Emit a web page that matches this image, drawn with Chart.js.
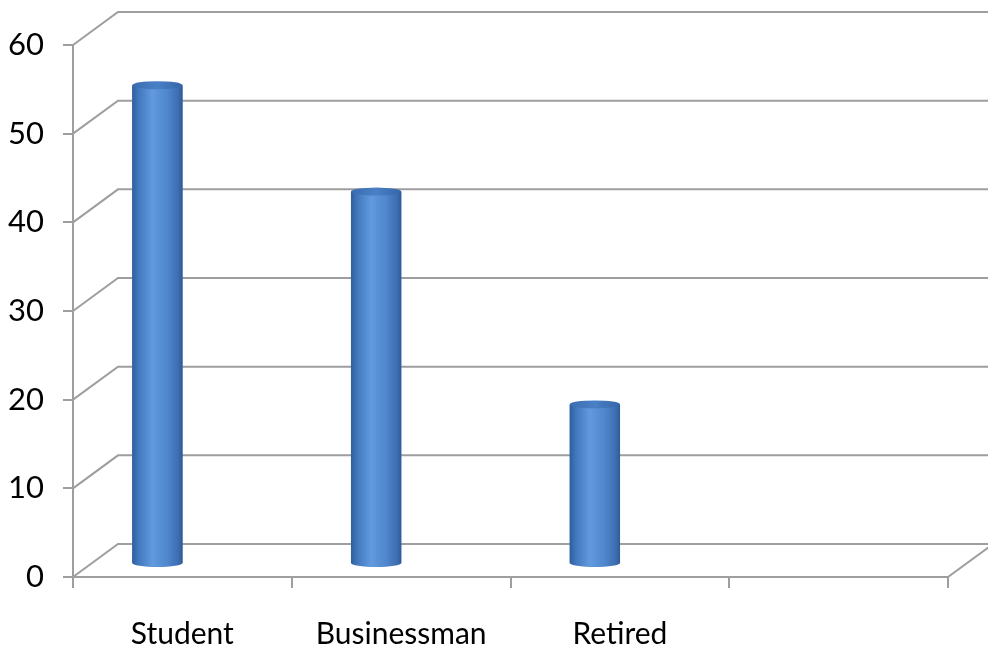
<!DOCTYPE html>
<html>
<head>
<meta charset="utf-8">
<script src="https://cdn.jsdelivr.net/npm/chart.js@4/dist/chart.umd.min.js"></script>
<style>
  html, body { margin: 0; padding: 0; background: #ffffff; }
  #wrap { width: 988px; height: 654px; position: relative; }
</style>
</head>
<body>
<div id="wrap"><canvas id="c" width="988" height="654"></canvas></div>
<script>
const categories = ['Student', 'Businessman', 'Retired', ''];
const seriesValues = [54, 42, 18, null];
const yTicks = [0, 10, 20, 30, 40, 50, 60];

const DEPTH_X = 45, DEPTH_Y = 33;   // back wall offset
const BAR_DX = -25, BAR_DY = -13;   // bar plane offset
const LINE = '#9e9e9e';
const FONT = 'Lato, "Open Sans", sans-serif';

const wallPlugin = {
  id: 'wall3d',
  beforeDatasetsDraw(chart) {
    const ctx = chart.ctx, y = chart.scales.y, a = chart.chartArea;
    ctx.save();
    ctx.strokeStyle = LINE;
    ctx.lineWidth = 2;
    yTicks.forEach(v => {
      const py = y.getPixelForValue(v);
      ctx.beginPath();
      ctx.moveTo(a.left, py);
      ctx.lineTo(a.left + DEPTH_X, py - DEPTH_Y);
      ctx.lineTo(a.right + DEPTH_X, py - DEPTH_Y);
      ctx.stroke();
    });
    const p0 = y.getPixelForValue(0);
    ctx.beginPath();
    ctx.moveTo(a.right, p0);
    ctx.lineTo(a.right + DEPTH_X, p0 - DEPTH_Y);
    ctx.stroke();
    ctx.restore();
    ctx.save();
    ctx.translate(BAR_DX, BAR_DY);
  },
  afterDatasetsDraw(chart) {
    const ctx = chart.ctx;
    const meta = chart.getDatasetMeta(0);
    meta.data.forEach((el, i) => {
      if (seriesValues[i] == null) return;
      const p = el.getProps(['x', 'y', 'base', 'width'], true);
      const l = p.x - p.width / 2, r = p.x + p.width / 2;
      const rx = p.width / 2, ry = 4;
      const g = ctx.createLinearGradient(l, 0, r, 0);
      g.addColorStop(0, '#2e5e9e');
      g.addColorStop(0.12, '#4177bd');
      g.addColorStop(0.4, '#629ade');
      g.addColorStop(0.7, '#4f86cc');
      g.addColorStop(0.92, '#3c6db0');
      g.addColorStop(1, '#2f5a95');
      ctx.fillStyle = g;
      ctx.beginPath();
      ctx.moveTo(l, p.y);
      ctx.lineTo(l, p.base);
      ctx.ellipse(p.x, p.base, rx, ry, 0, Math.PI, 0, true);
      ctx.lineTo(r, p.y);
      ctx.closePath();
      ctx.fill();
      const gt = ctx.createLinearGradient(l, 0, r, 0);
      gt.addColorStop(0, '#3a6db0');
      gt.addColorStop(0.5, '#4a80c6');
      gt.addColorStop(1, '#3566a8');
      ctx.fillStyle = gt;
      ctx.beginPath();
      ctx.ellipse(p.x, p.y, rx, ry, 0, 0, Math.PI * 2);
      ctx.fill();
    });
    ctx.restore();
  }
};

new Chart(document.getElementById('c'), {
  type: 'bar',
  data: {
    labels: categories,
    datasets: [{
      data: seriesValues,
      backgroundColor: '#4a80c6',
      borderWidth: 0,
      categoryPercentage: 1,
      barPercentage: 0.23
    }]
  },
  options: {
    responsive: false,
    animation: false,
    devicePixelRatio: 1,
    layout: { padding: { top: 45, right: 40, left: 0, bottom: 0 } },
    plugins: { legend: { display: false }, tooltip: { enabled: false } },
    scales: {
      x: {
        grid: { display: true, drawOnChartArea: false, drawTicks: true, tickLength: 11, color: LINE, lineWidth: 2, offset: true },
        border: { display: true, color: LINE, width: 2 },
        ticks: { color: '#000', font: { family: FONT, size: 30 }, padding: 28, maxRotation: 0 },
        afterFit(s) { s.height = 77; }
      },
      y: {
        min: 0, max: 60,
        afterBuildTicks(s) { s.ticks = yTicks.map(v => ({ value: v })); },
        grid: { display: true, drawOnChartArea: false, drawTicks: true, tickLength: 10, color: LINE, lineWidth: 2 },
        border: { display: true, color: LINE, width: 2 },
        ticks: { color: '#000', font: { family: FONT, size: 31 }, padding: 19 },
        afterFit(s) { s.width = 73; }
      }
    }
  },
  plugins: [wallPlugin]
});
</script>
</body>
</html>
